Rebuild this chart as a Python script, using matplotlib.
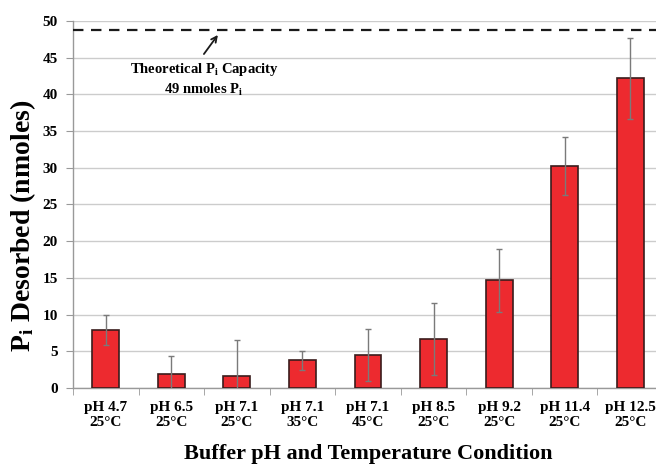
import matplotlib
matplotlib.use("Agg")
import matplotlib.pyplot as plt
import numpy as np

categories = ["pH 4.7\n25°C", "pH 6.5\n25°C", "pH 7.1\n25°C", "pH 7.1\n35°C", "pH 7.1\n45°C",
              "pH 8.5\n25°C", "pH 9.2\n25°C", "pH 11.4\n25°C", "pH 12.5\n25°C"]
values = [7.9, 1.9, 1.6, 3.8, 4.45, 6.65, 14.7, 30.25, 42.2]
errors = [2.0, 2.4, 5.0, 1.3, 3.55, 4.9, 4.3, 3.95, 5.55]
capacity = 48.75
yticks = [0, 5, 10, 15, 20, 25, 30, 35, 40, 45, 50]

plt.rcParams['font.family'] = ['Liberation Serif', 'DejaVu Serif']
plt.rcParams['font.weight'] = 'bold'
plt.rcParams['mathtext.fontset'] = 'custom'
plt.rcParams['mathtext.rm'] = 'Liberation Serif:bold'
plt.rcParams['mathtext.bf'] = 'Liberation Serif:bold'
plt.rcParams['mathtext.it'] = 'Liberation Serif:bold'

fig = plt.figure(figsize=(6.56, 4.65), dpi=100)
W, H = 656, 465
left, right, top, bottom = 73, 663, 21, 388
ax = fig.add_axes([left / W, 1 - bottom / H, (right - left) / W, (bottom - top) / H])

x = np.arange(len(categories))
ax.bar(x, values, width=0.41, color='#ED2A2F', edgecolor='#3a1c1c', linewidth=1.2, zorder=3)
ax.errorbar(x, values, yerr=errors, fmt='none', ecolor='#7a7a7a', elinewidth=1.0,
            capsize=2.5, capthick=1.0, zorder=4)
ax.axhline(capacity, color='#1a1a1a', linestyle=(0, (4.7, 3.4)), linewidth=1.6, zorder=5)

ax.set_xlim(-0.5, len(categories) - 0.5)
ax.set_ylim(0, 50)
ax.set_yticks(yticks)
ax.set_yticklabels([str(t) for t in yticks], fontsize=11, fontweight='bold')
ax.yaxis.grid(True, color='#cccccc', linewidth=1.0, zorder=0)
ax.set_axisbelow(True)

ax.set_xticks(x)
ax.set_xticklabels(categories, fontsize=11, fontweight='bold', linespacing=1.23)
ax.set_xticks(np.arange(len(categories) + 1) - 0.5, minor=True)
ax.tick_params(axis='x', which='major', length=0, pad=9.5)
ax.tick_params(axis='x', which='minor', length=5, color='#999999', direction='out')
ax.tick_params(axis='y', length=5, color='#999999', direction='out', pad=6)

for s in ['top', 'right']:
    ax.spines[s].set_visible(False)
for s in ['left', 'bottom']:
    ax.spines[s].set_color('#999999')
    ax.spines[s].set_linewidth(1.0)

ax.set_ylabel(r'P$_\mathregular{i}$ Desorbed (nmoles)', fontsize=20, fontweight='bold')
ax.yaxis.set_label_coords((38 - left) / (right - left), (bottom - 226) / (bottom - top))
ax.set_xlabel('Buffer pH and Temperature Condition', fontsize=16, fontweight='bold', labelpad=10.5)

ax.annotate('', xy=(1.71, 48.1), xytext=(1.497, 45.5),
            arrowprops=dict(arrowstyle='->', color='#1a1a1a', lw=1.3, shrinkA=0, shrinkB=0))
ax.text(1.5, 44.5, r'Theoretical P$_\mathregular{i}$ Capacity' + '\n' + r'49 nmoles P$_\mathregular{i}$',
        ha='center', va='top', fontsize=10.5, fontweight='bold', linespacing=1.3)

fig.savefig('out.png', dpi=100)
